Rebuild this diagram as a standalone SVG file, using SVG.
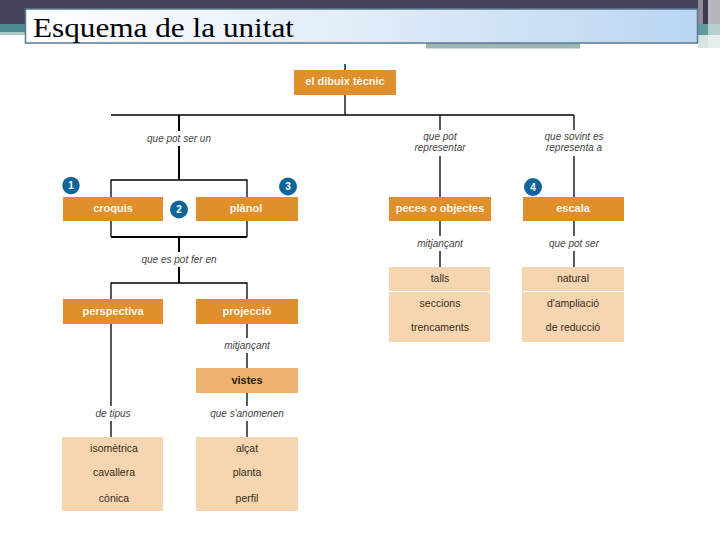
<svg xmlns="http://www.w3.org/2000/svg" width="720" height="540" viewBox="0 0 720 540">
<style>
text{font-family:"Liberation Sans",Arial,sans-serif;text-anchor:middle}
.o{fill:#df8f2b}
.l{fill:#f5d6b0}
.h{font-size:11px;font-weight:bold;fill:#fdf6ec}
.t{font-size:10.500px;fill:#3a2a20}
.c{font-size:10px;font-style:italic;fill:#444}
.n{fill:#0f6498}
.d{font-size:10px;font-weight:bold;fill:#fff}
.w{fill:#fff}
#connectors path{fill:none;stroke:#000;stroke-width:1.300}
#connectors path.b{stroke-width:2}
</style>
<defs><linearGradient id="g" x1="0" y1="0" x2="1" y2="0"><stop offset="0" stop-color="#fff"/><stop offset="0.5" stop-color="#e0ecf8"/><stop offset="1" stop-color="#b9d6f2"/></linearGradient></defs>
<rect width="720" height="540" fill="#fff"/>
<g id="banner">
<rect x="0" y="0" width="703" height="24" fill="#45435a"/>
<rect x="0" y="24" width="28" height="8" fill="#4f8a90"/>
<rect x="0" y="32" width="28" height="3" fill="#a8c8c8"/>
<rect x="698" y="0" width="5" height="24" fill="#8f8d9c"/>
<rect x="703" y="0" width="5" height="24" fill="#3c3a4c"/>
<rect x="708" y="0" width="12" height="24" fill="#b8b6bc"/>
<rect x="698" y="24" width="10" height="11" fill="#5f9a9c"/>
<rect x="708" y="24" width="12" height="11" fill="#b5cfcd"/>
<rect x="698" y="35" width="10" height="13" fill="#d5e4e2"/>
<rect x="708" y="35" width="12" height="13" fill="#e6eeec"/>
<rect x="426" y="43" width="154" height="5.500" fill="#9fb5b5"/>
<rect x="25.500" y="9" width="672" height="34" fill="url(#g)" stroke="#5a7a90" stroke-width="1.500"/>
<text x="33" y="37" style="font-family:'Liberation Serif',serif;font-size:28px;text-anchor:start;fill:#000" textLength="261" lengthAdjust="spacingAndGlyphs">Esquema de la unitat</text>
</g>
<g id="connectors">
<path d="M345 64V70M345 95V115M111 115H574M440 115V197M574 115V197"/>
<path class="b" d="M179 115V180"/>
<path d="M111 197V180H247V197M111 221V237M247 221V237"/>
<path class="b" d="M111 237H247M179 237V283"/>
<path d="M111 299V283H247V299"/>
<path d="M111 324V437M247 324V437M440 221V267M574 221V267"/>
</g>
<g id="label-que-pot-ser-un"><rect class="w" x="145" y="131" width="68" height="15"/><text class="c" x="179" y="142">que pot ser un</text></g>
<g id="label-que-pot-representar"><rect class="w" x="414" y="130" width="52" height="26"/><text class="c" x="440" y="140">que pot</text><text class="c" x="440" y="151">representar</text></g>
<g id="label-que-sovint"><rect class="w" x="544" y="130" width="60" height="26"/><text class="c" x="574" y="140">que sovint es</text><text class="c" x="574" y="151">representa a</text></g>
<g id="label-que-es-pot"><rect class="w" x="141" y="252" width="76" height="15"/><text class="c" x="179" y="263">que es pot fer en</text></g>
<g id="label-mitjancant-1"><rect class="w" x="222" y="338" width="50" height="15"/><text class="c" x="247" y="349">mitjançant</text></g>
<g id="label-de-tipus"><rect class="w" x="94" y="406" width="36" height="15"/><text class="c" x="113" y="417">de tipus</text></g>
<g id="label-que-anomenen"><rect class="w" x="210" y="406" width="74" height="15"/><text class="c" x="247" y="417">que s'anomenen</text></g>
<g id="label-mitjancant-2"><rect class="w" x="415" y="236" width="50" height="15"/><text class="c" x="440" y="247">mitjançant</text></g>
<g id="label-que-pot-ser"><rect class="w" x="546" y="236" width="56" height="15"/><text class="c" x="574" y="247">que pot ser</text></g>
<g id="el-dibuix-tecnic"><rect class="o" x="294" y="70" width="102" height="25"/><text class="h" x="345" y="85">el dibuix tècnic</text></g>
<g id="croquis"><rect class="o" x="63" y="197" width="100" height="24"/><text class="h" x="113" y="212">croquis</text></g>
<g id="planol"><rect class="o" x="196" y="197" width="102" height="24"/><text class="h" x="246" y="212">plànol</text></g>
<g id="peces"><rect class="o" x="389" y="197" width="102" height="24"/><text class="h" x="440" y="212">peces o objectes</text></g>
<g id="escala"><rect class="o" x="523" y="197" width="101" height="24"/><text class="h" x="573" y="212">escala</text></g>
<g id="perspectiva"><rect class="o" x="63" y="299" width="100" height="25"/><text class="h" x="113" y="315">perspectiva</text></g>
<g id="projeccio"><rect class="o" x="196" y="299" width="102" height="25"/><text class="h" x="247" y="315">projecció</text></g>
<g id="vistes"><rect x="196" y="368" width="102" height="25" fill="#ecb26e"/><text x="247" y="384" style="font-size:11px;font-weight:bold;fill:#2a1a10">vistes</text></g>
<g id="tipus-list"><rect class="l" x="62" y="437" width="101" height="74"/><text class="t" x="114" y="452">isomètrica</text><text class="t" x="114" y="476">cavallera</text><text class="t" x="114" y="502">cònica</text></g>
<g id="vistes-list"><rect class="l" x="196" y="437" width="102" height="74"/><text class="t" x="247" y="452">alçat</text><text class="t" x="247" y="476">planta</text><text class="t" x="247" y="502">perfil</text></g>
<g id="peces-list"><rect class="l" x="389" y="267" width="101" height="75"/><rect class="w" x="389" y="291" width="101" height="1"/><text class="t" x="440" y="282">talls</text><text class="t" x="440" y="307">seccions</text><text class="t" x="440" y="331">trencaments</text></g>
<g id="escala-list"><rect class="l" x="522" y="267" width="102" height="75"/><rect class="w" x="522" y="291" width="102" height="1"/><text class="t" x="573" y="282">natural</text><text class="t" x="573" y="307">d'ampliació</text><text class="t" x="573" y="331">de reducció</text></g>
<g id="n1"><circle class="n" cx="71" cy="185.500" r="8.700"/><text class="d" x="71" y="189">1</text></g>
<g id="n2"><circle class="n" cx="179" cy="209.500" r="9"/><text class="d" x="179" y="213">2</text></g>
<g id="n3"><circle class="n" cx="288" cy="186.500" r="9"/><text class="d" x="288" y="190">3</text></g>
<g id="n4"><circle class="n" cx="533" cy="187" r="9"/><text class="d" x="533" y="190.500">4</text></g>
</svg>
